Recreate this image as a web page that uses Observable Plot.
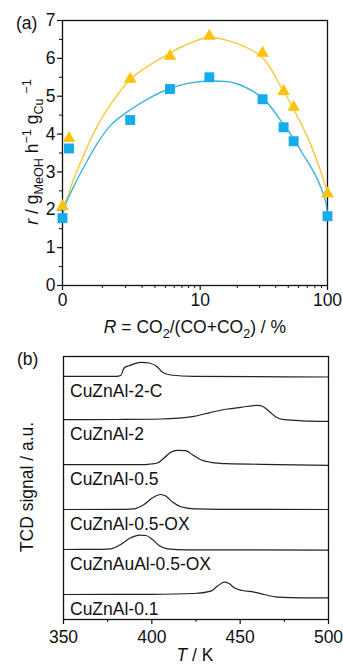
<!DOCTYPE html>
<html><head><meta charset="utf-8">
<script src="https://cdn.jsdelivr.net/npm/d3@7"></script>
<script src="https://cdn.jsdelivr.net/npm/@observablehq/plot@0.6"></script>
<style>
body{margin:0;background:#fff;}
#wrap{position:relative;width:343px;height:667px;overflow:hidden;}
#a{position:absolute;left:0;top:0;}
#b{position:absolute;left:0;top:340px;}
</style></head><body><div id="wrap"><div id="a"></div><div id="b"></div></div>
<script>
// ---------- (a) data ----------
const ratioR     = [0, 0.12, 2.25, 5.5, 11.9, 31.6, 46, 55, 100];
const rateBlue   = [1.78, 3.62, 4.37, 5.19, 5.50, 4.92, 4.18, 3.81, 1.83];
const rateYellow = [2.09, 3.89, 5.45, 6.06, 6.59, 6.14, 5.13, 4.71, 2.43];

const fitBlueR      = [0, 0.05, 0.21, 0.45, 0.83, 1.31, 2.22, 3.65, 5.5, 7.9, 11.6, 18.9, 31.6, 45, 55, 64, 80, 90, 97, 100];
const fitBlueRate   = [1.8, 2.12, 2.6, 3.13, 3.75, 4.23, 4.63, 4.97, 5.21, 5.34, 5.40, 5.35, 4.95, 4.3, 3.88, 3.5, 2.95, 2.55, 2.2, 1.83];
const fitYellowR    = [0, 0.08, 0.21, 0.45, 0.72, 1.0, 2.27, 3.65, 5.5, 6.9, 11.8, 17.9, 31, 44, 55.5, 72, 86, 95, 100];
const fitYellowRate = [2.09, 2.3, 2.8, 3.45, 4.02, 4.45, 5.45, 5.84, 6.14, 6.3, 6.55, 6.44, 6.04, 5.25, 4.63, 3.84, 3.15, 2.7, 2.43];

const xMajorTicks = [0, 10, 100];
const xMinorTicks = [1, 2, 3, 4, 5, 6, 7, 8, 9, 20, 30, 40, 50, 60, 70, 80, 90];
const yMajorTicks = [0, 1, 2, 3, 4, 5, 6, 7];
const yMinorTicks = [0.5, 1.5, 2.5, 3.5, 4.5, 5.5, 6.5];

// ---------- (b) data ----------
const tprNames  = ["CuZnAl-2-C", "CuZnAl-2", "CuZnAl-0.5", "CuZnAl-0.5-OX", "CuZnAuAl-0.5-OX", "CuZnAl-0.1"];
const tprOffset = [24.3, 19.95, 15.45, 11.0, 6.97, 2.47];
const tpr1T = [350, 380, 382.4, 384.3, 387.1, 393.8, 398.5, 403.2, 406, 410.7, 424, 500];
const tpr1S = [0.02, 0.02, 0.1, 0.85, 1.08, 1.42, 1.35, 0.95, 0.42, 0.15, 0.02, -0.05];
const tpr2T = [350, 380, 405.1, 423.9, 433.4, 442.8, 450.4, 459.8, 462.6, 466.4, 470.2, 474.9, 485, 500];
const tpr2S = [0.03, 0.05, 0.1, 0.37, 0.77, 1.1, 1.27, 1.47, 1.37, 0.87, 0.3, 0.03, -0.08, -0.13];
const tpr3T = [350, 395, 399.4, 403.2, 406.9, 410.7, 414.5, 419.2, 423, 427.7, 433.4, 442.8, 461.7, 500];
const tpr3S = [0.03, 0.03, 0.1, 0.2, 0.7, 1.27, 1.47, 1.43, 1.03, 0.53, 0.27, 0.13, 0.07, -0.03];
const tpr4T = [350, 385, 390, 395.6, 400.4, 405.1, 407.9, 411.7, 416.4, 423.9, 440, 500];
const tpr4S = [0, 0.02, 0.07, 0.5, 1.17, 1.5, 1.34, 0.74, 0.27, 0.07, 0.02, 0];
const tpr5T = [350, 372, 376.8, 382.4, 388.1, 392.8, 396.6, 400.4, 404.1, 408.9, 420, 500];
const tpr5S = [0.03, 0.05, 0.1, 0.53, 1.2, 1.47, 1.43, 1.03, 0.43, 0.1, 0, -0.03];
const tpr6T = [350, 400, 423.9, 433.4, 437.2, 440.9, 443.7, 446.6, 451.3, 457.9, 463.5, 471.1, 485, 500];
const tpr6S = [0.03, 0.05, 0.13, 0.37, 0.87, 1.27, 1.13, 0.7, 0.43, 0.27, 0.03, -0.23, -0.3, -0.3];
const tMajorTicks = [350, 400, 450, 500];
const tMinorTicks = [375, 425, 475];

// ---------- build ----------
const FONT = '"Liberation Sans", Arial, Helvetica, sans-serif';
const FS = 17.5;
const INK = "#111";

const zip = (xs, ys) => xs.map((x, i) => ({x, y: ys[i]}));
const ptsBlue = zip(ratioR, rateBlue);
const ptsYellow = zip(ratioR, rateYellow);
const lineBlue = zip(fitBlueR, fitBlueRate);
const lineYellow = zip(fitYellowR, fitYellowRate);

const chartA = Plot.plot({
  width: 343, height: 340,
  marginTop: 20, marginBottom: 55, marginLeft: 62, marginRight: 16,
  style: {fontFamily: FONT, fontSize: FS + "px", color: INK, background: "transparent", overflow: "visible"},
  x: {type: "symlog", constant: 1, domain: [0, 100]},
  y: {domain: [0, 7]},
  marks: [
    Plot.axisX(xMajorTicks, {tickSize: 5, tickPadding: 3, tickFormat: d => String(d), label: null, strokeWidth: 1.2}),
    Plot.axisX(xMinorTicks, {tickSize: 3, tickFormat: () => "", label: null, strokeWidth: 1}),
    Plot.axisY(yMajorTicks, {tickSize: 5, tickPadding: 2, label: null, strokeWidth: 1.2}),
    Plot.axisY(yMinorTicks, {tickSize: 3, tickFormat: () => "", label: null, strokeWidth: 1}),
    Plot.frame({stroke: INK, strokeWidth: 1.3}),
    Plot.line(lineYellow, {x: "x", y: "y", stroke: "#F5C93A", strokeWidth: 1.4, curve: "catmull-rom"}),
    Plot.line(lineBlue, {x: "x", y: "y", stroke: "#3BB4E2", strokeWidth: 1.4, curve: "catmull-rom"}),
    Plot.dot(ptsYellow, {x: "x", y: "y", symbol: "triangle", r: 4.7, fill: "#FFC20E"}),
    Plot.dot(ptsBlue, {x: "x", y: "y", symbol: "square", r: 5.6, fill: "#14ADEA"})
  ]
});
document.getElementById("a").appendChild(chartA);

const tprT = [tpr1T, tpr2T, tpr3T, tpr4T, tpr5T, tpr6T];
const tprS = [tpr1S, tpr2S, tpr3S, tpr4S, tpr5S, tpr6S];
const tprRows = tprNames.flatMap((name, i) => tprT[i].map((T, j) => ({name, T, y: tprOffset[i] + tprS[i][j]})));
const tprLabels = tprNames.map((name, i) => ({name, y: tprOffset[i]}));

const chartB = Plot.plot({
  width: 343, height: 327,
  marginTop: 16, marginBottom: 48, marginLeft: 63, marginRight: 15,
  style: {fontFamily: FONT, fontSize: FS + "px", color: INK, background: "transparent", overflow: "visible"},
  x: {domain: [350, 500]},
  y: {domain: [0, 26.3], axis: null},
  marks: [
    Plot.axisX(tMajorTicks, {tickSize: 5, tickPadding: 6, label: null, strokeWidth: 1.2}),
    Plot.axisX(tMinorTicks, {tickSize: 3, tickFormat: () => "", label: null, strokeWidth: 1}),
    Plot.frame({stroke: INK, strokeWidth: 1.3}),
    Plot.line(tprRows, {x: "T", y: "y", z: "name", stroke: "#222", strokeWidth: 1.2, curve: "monotone-x"}),
    Plot.text(tprLabels, {y: "y", text: "name", frameAnchor: "left", textAnchor: "start", dx: 6.5, dy: 14.6, fill: INK})
  ]
});
document.getElementById("b").appendChild(chartB);

// ---------- rich titles ----------
function rich(svg, x, y, parts, opts = {}) {
  const t = d3.select(svg).append("text")
    .attr("fill", INK).attr("font-family", FONT).attr("font-size", FS)
    .attr("text-anchor", opts.anchor || "start");
  if (opts.rotate) t.attr("transform", `translate(${x},${y}) rotate(-90)`);
  else t.attr("x", x).attr("y", y);
  let shift = 0;
  for (const [txt, kind] of parts) {
    const ts = t.append("tspan").text(txt);
    let target = 0;
    if (kind === "sub") { target = 5; ts.attr("font-size", FS * 0.72); }
    else if (kind === "sup") { target = -7; ts.attr("font-size", FS * 0.72); }
    else if (kind === "it") ts.attr("font-style", "italic");
    if (target !== shift) { ts.attr("dy", target - shift); shift = target; }
  }
  return t;
}

rich(chartA, 16, 29, [["(a)"]]);
rich(chartA, 38, 152, [["r", "it"], [" / g"], ["MeOH", "sub"], [" h"], ["\u22121", "sup"], [" g"], ["Cu", "sub"], [" "], ["\u22121", "sup"]], {rotate: true, anchor: "middle"});
rich(chartA, 195, 333, [["R", "it"], [" = CO"], ["2", "sub"], ["/(CO+CO"], ["2", "sub"], [") / %"]], {anchor: "middle"});

rich(chartB, 17, 25, [["(b)"]]);
rich(chartB, 33, 147, [["TCD signal / a.u."]], {rotate: true, anchor: "middle"});
rich(chartB, 195, 321, [["T", "it"], [" / K"]], {anchor: "middle"});
</script>
</body></html>
